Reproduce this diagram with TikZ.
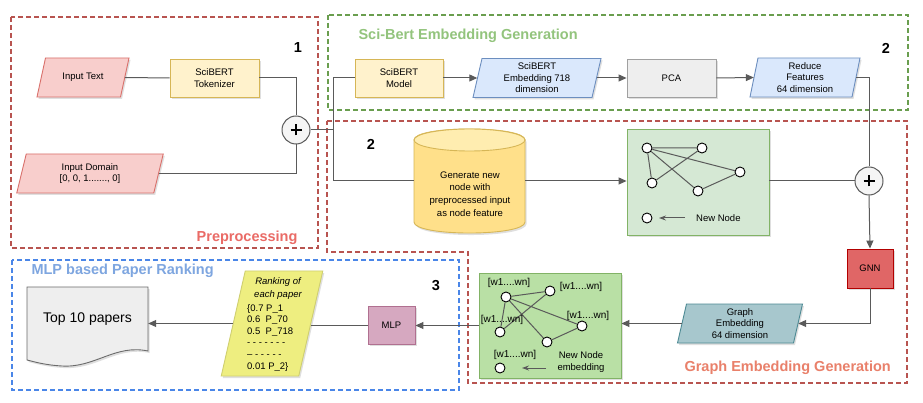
\documentclass[tikz,border=0pt]{standalone}
\usepackage{fontspec}
\setmainfont{Liberation Sans}
\usetikzlibrary{arrows.meta,shadows}
\definecolor{predash}{HTML}{B85450}
\definecolor{pretitle}{HTML}{EA6B66}
\definecolor{grdash}{HTML}{6A9E4F}
\definecolor{grtitle}{HTML}{93C47D}
\definecolor{bldash}{HTML}{4A86E8}
\definecolor{bltitle}{HTML}{7EA6E0}
\definecolor{getitle}{HTML}{E9806A}
\definecolor{linec}{HTML}{5A5A5A}
\definecolor{pinkf}{HTML}{F8CECC}
\definecolor{pinkd}{HTML}{D9706B}
\definecolor{yelf}{HTML}{FFF2CC}
\definecolor{yeld}{HTML}{D6B656}
\definecolor{bluf}{HTML}{DAE8FC}
\definecolor{blud}{HTML}{6C8EBF}
\definecolor{grayf}{HTML}{EEEEEE}
\definecolor{grayd}{HTML}{A0A0A0}
\definecolor{gboxf}{HTML}{D5E8D4}
\definecolor{gboxd}{HTML}{82B366}
\definecolor{gbox2f}{HTML}{B9E0A5}
\definecolor{gnnf}{HTML}{E06666}
\definecolor{gnnd}{HTML}{B20000}
\definecolor{tealf}{HTML}{A7C7CD}
\definecolor{teald}{HTML}{4D8A94}
\definecolor{mlpf}{HTML}{D6A8C0}
\definecolor{mlpd}{HTML}{B07090}
\definecolor{rankf}{HTML}{EEEE80}
\definecolor{rankd}{HTML}{CFCF70}
\definecolor{cylf}{HTML}{FFE08A}
\definecolor{cyltop}{HTML}{FFEDB0}
\definecolor{plusf}{HTML}{F5F5F5}
\tikzset{
  ln/.style={draw=linec, line width=1pt},
  arr/.style={ln, -{Triangle[length=8pt,width=7pt]}},
  sarr/.style={ln, -{Stealth[length=7pt,width=5pt]}},
  txt/.style={font=\fontsize{9.5}{11.5}\selectfont, align=center, text=black},
  shd/.style={drop shadow={shadow xshift=1.5pt, shadow yshift=-2pt, opacity=0.25}},
  rbox/.style={txt, draw, line width=0.9pt, shd, inner sep=0pt},
  pshape/.style={line width=0.9pt, shd},
  dbox/.style={dash pattern=on 5pt off 3pt, line width=1.1pt},
  gdot/.style={circle, draw=black, fill=white, line width=0.9pt, minimum size=10pt, inner sep=0pt},
  gedge/.style={draw=linec, line width=1pt},
  ttl/.style={font=\fontsize{14.5}{16}\selectfont\bfseries},
  wlab/.style={font=\fontsize{10}{12}\selectfont, text=black, inner sep=0pt},
  plusc/.style={circle, draw=linec, fill=plusf, line width=1pt, minimum size=28pt, inner sep=0pt,
    path picture={\draw[line width=1.4pt, black]
      ([xshift=-5.5pt]path picture bounding box.center) -- ([xshift=5.5pt]path picture bounding box.center)
      ([yshift=-5.5pt]path picture bounding box.center) -- ([yshift=5.5pt]path picture bounding box.center);}},
}
% #1 name, #2 cx, #3 cy, #4 width, #5 height, #6 skew, #7 style, #8 text
\newcommand{\myparal}[8]{%
  \draw[#7] ({#2-#4/2+#6/2},{#3-#5/2}) -- ({#2+#4/2+#6/2},{#3-#5/2}) -- ({#2+#4/2-#6/2},{#3+#5/2}) -- ({#2-#4/2-#6/2},{#3+#5/2}) -- cycle;
  \node[txt, minimum width=#4pt, minimum height=#5pt, inner sep=0pt] (#1) at (#2,#3) {#8};}
\begin{document}
\begin{tikzpicture}[x=1pt,y=-1pt]
\useasboundingbox (0,0) rectangle (923,403);
\fill[white] (0,0) rectangle (923,403);

% group frames
\draw[dbox, draw=predash] (11,17) rectangle (318,248);
\draw[dbox, draw=grdash] (328,15) rectangle (908,110);
\draw[dbox, draw=predash] (327,121) -- (907,121) -- (907,383) -- (468,383) -- (468,252) -- (327,252) -- cycle;
\draw[dbox, draw=bldash] (12,260) rectangle (459,390);

% titles and numbers
\node[ttl, text=pretitle, anchor=east] (tpre) at (301,238) {Preprocessing};
\node[ttl, text=grtitle, anchor=west] (tsci) at (355,36) {Sci-Bert Embedding Generation};
\node[ttl, text=getitle, anchor=west] (tge) at (681,368) {Graph Embedding Generation};
\node[ttl, text=bltitle, anchor=west] (tmlp) at (28,271) {MLP based Paper Ranking};
\node[ttl] (n1) at (298,48) {1};
\node[ttl] (n2a) at (886,48) {2};
\node[ttl] (n2b) at (371,144) {2};
\node[ttl] (n3) at (436,286) {3};

% preprocessing
\myparal{itext}{83}{77.5}{83.5}{39}{8.5}{pshape, fill=pinkf, draw=pinkd}{Input Text}
\node[rbox, fill=yelf, draw=yeld, minimum width=89pt, minimum height=38pt] (tok) at (214.5,78) {SciBERT\\Tokenizer};
\myparal{idom}{90}{173.5}{137}{39}{9.5}{pshape, fill=pinkf, draw=pinkd}{Input Domain\\{[0, 0, 1......., 0]}}
\node[plusc] (p1) at (296,130) {};

% sci-bert
\node[rbox, fill=yelf, draw=yeld, minimum width=88pt, minimum height=38pt] (sbm) at (399,78) {SciBERT\\Model};
\myparal{emb}{537}{78}{119}{39}{9}{pshape, fill=bluf, draw=blud}{SciBERT\\Embedding 718\\dimension}
\node[rbox, fill=grayf, draw=grayd, minimum width=89pt, minimum height=38pt] (pca) at (671.5,78) {PCA};
\myparal{red}{805}{77.5}{102}{39}{8}{pshape, fill=bluf, draw=blud}{Reduce\\Features\\64 dimension}

% cylinder
\draw[pshape, fill=cylf, draw=yeld] (414,140) -- (414,222) .. controls (414,236.7) and (525,236.7) .. (525,222) -- (525,140) .. controls (525,125.3) and (414,125.3) .. (414,140) -- cycle;
\draw[fill=cyltop, draw=yeld, line width=0.9pt] (469.5,140) ellipse [x radius=55.5, y radius=11];
\node[txt, minimum width=111pt, minimum height=104pt, inner sep=0pt] (cyl) at (469.5,181) {};
\node[txt, font=\fontsize{9.5}{12.6}\selectfont] (cyltxt) at (470,194) {Generate new\\node with\\preprocessed input\\as node feature};

% graph box 1
\node[rbox, fill=gboxf, draw=gboxd, minimum width=142pt, minimum height=106pt] (g1) at (698,182) {};
\node[gdot] (a1) at (647,148) {};
\node[gdot] (b1) at (702,148) {};
\node[gdot] (c1) at (652,183) {};
\node[gdot] (d1) at (698,191) {};
\node[gdot] (e1) at (740,172) {};
\node[gdot] (f1) at (647,218) {};
\draw[gedge] (a1) -- (b1) (a1) -- (c1) (a1) -- (d1) (a1) -- (e1) (c1) -- (b1) (d1) -- (e1);
\node[txt, anchor=west, inner sep=0pt] (nn1) at (696,218) {New Node};
\coordinate (nn1a) at (685,218);
\draw[sarr] (nn1a) -- (659,218);

\node[plusc] (p2) at (869,181) {};
\node[rbox, fill=gnnf, draw=gnnd, minimum width=46pt, minimum height=39pt] (gnn) at (870,268.5) {GNN};
\myparal{gemb}{740}{323.5}{116}{39}{9}{pshape, fill=tealf, draw=teald}{Graph\\Embedding\\64 dimension}

% graph box 2
\node[rbox, fill=gbox2f, draw=gboxd, minimum width=142pt, minimum height=105pt] (g2) at (550,325.5) {};
\node[gdot] (a2) at (506,297) {};
\node[gdot] (b2) at (550,291) {};
\node[gdot] (c2) at (500,332) {};
\node[gdot] (d2) at (547,342) {};
\node[gdot] (e2) at (582,326) {};
\node[gdot] (f2) at (500,368) {};
\draw[gedge] (a2) -- (b2) (a2) -- (c2) (a2) -- (d2) (a2) -- (e2) (c2) -- (b2) (d2) -- (e2);
\node[wlab] (wa) at (509,283) {[w1....wn]};
\node[wlab] (wb) at (581,287) {[w1....wn]};
\node[wlab] (wc) at (502,320) {[w1....wn]};
\node[wlab] (we) at (588,316) {[w1....wn]};
\node[wlab] (wf) at (515,355) {[w1....wn]};
\node[txt, inner sep=0pt, font=\fontsize{9.5}{12}\selectfont] (nn2) at (581,362) {New Node\\embedding};
\coordinate (nn2a) at (546,368);
\draw[sarr] (nn2a) -- (522,368);

% MLP ranking
\node[rbox, fill=mlpf, draw=mlpd, minimum width=47pt, minimum height=38pt] (mlp) at (391.5,325) {MLP};
\myparal{rank}{272}{323.5}{77.5}{105}{24}{pshape, fill=rankf, draw=rankd}{}
\node[txt, font=\fontsize{9.5}{12.6}\selectfont\itshape] (rankh) at (278,288.5) {Ranking of\\each paper};
\node[txt, align=left, anchor=north west, inner sep=0pt, font=\fontsize{9.5}{11.6}\selectfont] (rankb) at (247,304) {\{0.7 P\_1\\0.6\ \ P\_70\\0.5\ \ P\_718\\- - - - - - -\\-- - - - - -\\0.01 P\_2\}};

\draw[pshape, fill=grayf, draw=linec!90] (27,287) -- (148,287) -- (148,351) .. controls (115,344) and (95,368) .. (62,366) .. controls (45,365) and (35,362) .. (27,360) -- cycle;
\node[txt, font=\fontsize{14}{16}\selectfont, minimum width=121pt, minimum height=64pt, inner sep=0pt] (doc) at (87.5,319) {Top 10 papers};

% connectors
\draw[ln] (itext.east) -- (tok.west);
\draw[ln] (tok.east) -| (p1.north);
\draw[ln] (idom.east) -| (p1.south);
\coordinate (j1) at (333,130);
\draw[ln] (p1.east) -- (j1);
\draw[ln] (j1) |- (sbm.west);
\draw[ln] (j1) |- (cyl.west);
\draw[arr] (sbm.east) -- (emb.west);
\draw[arr] (emb.east) -- (pca.west);
\draw[arr] (pca.east) -- (red.west);
\draw[ln] (red.east) -| (p2.north);
\draw[arr] (cyl.east) -- (cyl.east -| g1.west);
\draw[ln] (g1.east |- p2.west) -- (p2.west);
\draw[arr] (p2.south) -- (gnn.north);
\draw[arr] (gnn.south) |- (gemb.east);
\draw[arr] (gemb.west) -- (gemb.west -| g2.east);
\draw[arr] (g2.west) -- (g2.west -| mlp.east);
\draw[ln] (mlp.west) -- (mlp.west -| rank.east);
\draw[arr] (rank.west) -- (rank.west -| doc.east);
\end{tikzpicture}
\end{document}
